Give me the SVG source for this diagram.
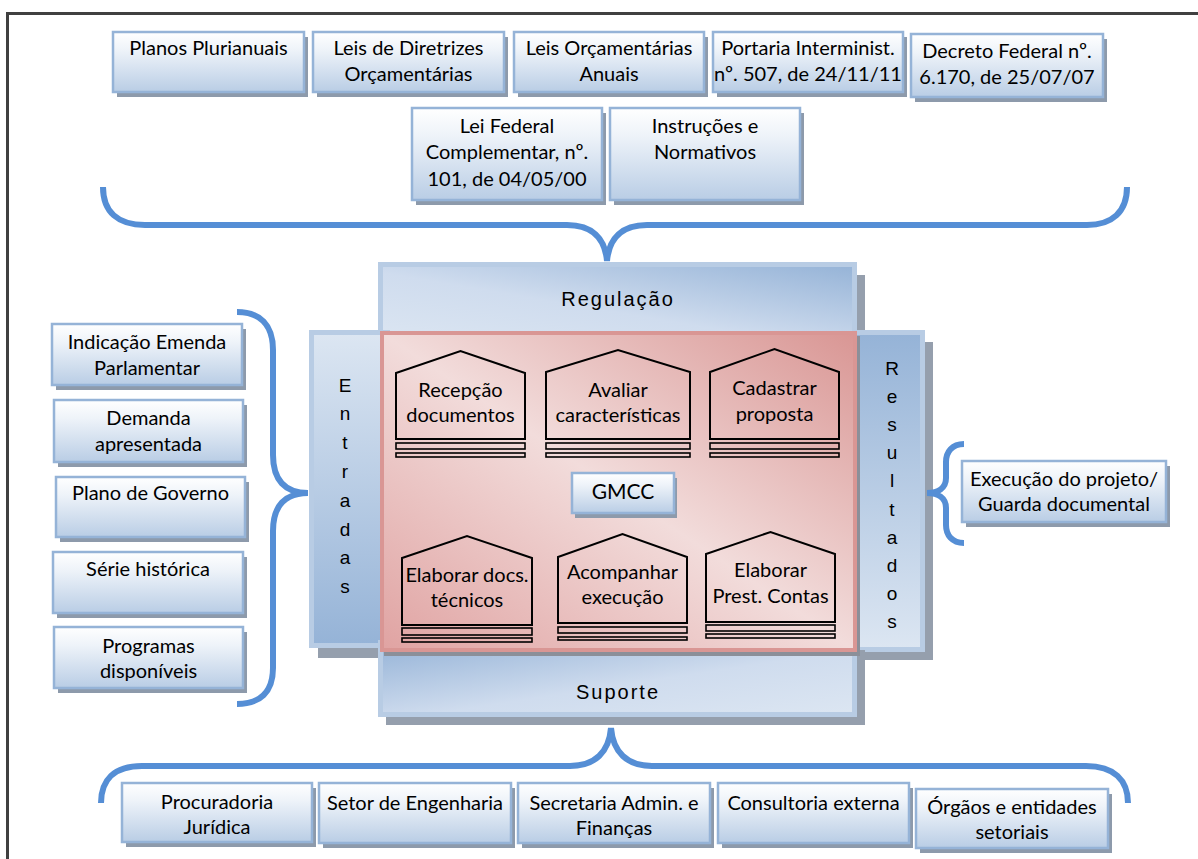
<svg xmlns="http://www.w3.org/2000/svg" width="1198" height="859" viewBox="0 0 1198 859">
<defs>
  <linearGradient id="gNode" x1="0" y1="0" x2="0" y2="1">
    <stop offset="0" stop-color="#ffffff"/>
    <stop offset="0.3" stop-color="#eef3f9"/>
    <stop offset="1" stop-color="#b9cde5"/>
  </linearGradient>
  <linearGradient id="gReg" x1="0" y1="1" x2="1" y2="0">
    <stop offset="0" stop-color="#dce6f2"/>
    <stop offset="0.45" stop-color="#cfdcee"/>
    <stop offset="1" stop-color="#95b3d7"/>
  </linearGradient>
  <linearGradient id="gSup" x1="0" y1="0" x2="1" y2="1">
    <stop offset="0" stop-color="#95b3d7"/>
    <stop offset="0.55" stop-color="#cfdcee"/>
    <stop offset="1" stop-color="#dce6f2"/>
  </linearGradient>
  <linearGradient id="gEnt" x1="0" y1="0" x2="0" y2="1">
    <stop offset="0" stop-color="#dce6f2"/>
    <stop offset="1" stop-color="#95b3d7"/>
  </linearGradient>
  <linearGradient id="gRes" x1="0" y1="0" x2="0" y2="1">
    <stop offset="0" stop-color="#95b3d7"/>
    <stop offset="1" stop-color="#dce6f2"/>
  </linearGradient>
  <linearGradient id="gCore" x1="1" y1="0" x2="0" y2="1">
    <stop offset="0" stop-color="#d99694"/>
    <stop offset="0.5" stop-color="#f2dcdb"/>
    <stop offset="1" stop-color="#e0a3a2"/>
  </linearGradient>
</defs>
<style>
  .box{fill:url(#gNode);stroke:#95b3d7;stroke-width:2.5}
  .sh{fill:#8d9aab}
  .psh{fill:#959fad}
  .t{font-family:Lato,"Liberation Sans",sans-serif;font-size:20px;fill:#000;text-anchor:middle}
  .v{font-family:"Liberation Sans",Arial,sans-serif;font-size:19px;fill:#000;text-anchor:middle}
  .lab{font-family:"Liberation Sans",Arial,sans-serif;font-size:20px;letter-spacing:2px;fill:#000;text-anchor:middle}
  .panel{stroke:#b8cce4;stroke-width:5}
  .house{fill:none;stroke:#000;stroke-width:2}
  .bar{fill:none;stroke:#000;stroke-width:1.6}
  .brace{fill:none;stroke:#558ed5;stroke-width:6}
</style>

<!-- page frame -->
<rect x="7.5" y="13.5" width="1200" height="860" fill="none" stroke="#404040" stroke-width="3"/>

<!-- legal framework (top) -->
<g id="planos">
  <rect class="sh" x="117" y="37" width="191" height="60"/>
  <rect class="box" x="113" y="32" width="191" height="60"/>
  <text class="t" x="208.5" y="55">Planos Plurianuais</text>
</g>
<g id="ldo">
  <rect class="sh" x="317" y="37" width="191" height="60"/>
  <rect class="box" x="313" y="32" width="191" height="60"/>
  <text class="t" x="408.5" y="55">Leis de Diretrizes</text>
  <text class="t" x="408.5" y="81">Orçamentárias</text>
</g>
<g id="loa">
  <rect class="sh" x="518" y="37" width="190" height="60"/>
  <rect class="box" x="514" y="32" width="190" height="60"/>
  <text class="t" x="609" y="55">Leis Orçamentárias</text>
  <text class="t" x="609" y="81">Anuais</text>
</g>
<g id="portaria">
  <rect class="sh" x="717" y="37" width="190" height="60"/>
  <rect class="box" x="713" y="32" width="190" height="60"/>
  <text class="t" x="808" y="55">Portaria Interminist.</text>
  <text class="t" x="808" y="81">nº. 507, de 24/11/11</text>
</g>
<g id="decreto">
  <rect class="sh" x="915" y="39" width="192" height="63"/>
  <rect class="box" x="911" y="34" width="192" height="63"/>
  <text class="t" x="1007" y="58">Decreto Federal nº.</text>
  <text class="t" x="1007" y="84">6.170, de 25/07/07</text>
</g>
<g id="lrf">
  <rect class="sh" x="416" y="113" width="190" height="92"/>
  <rect class="box" x="412" y="108" width="190" height="92"/>
  <text class="t" x="507" y="133">Lei Federal</text>
  <text class="t" x="507" y="159">Complementar, nº.</text>
  <text class="t" x="507" y="186">101, de 04/05/00</text>
</g>
<g id="instrucoes">
  <rect class="sh" x="614" y="113" width="190" height="92"/>
  <rect class="box" x="610" y="108" width="190" height="92"/>
  <text class="t" x="705" y="133">Instruções e</text>
  <text class="t" x="705" y="159">Normativos</text>
</g>

<!-- inputs (left) -->
<g id="emenda">
  <rect class="sh" x="56" y="329" width="190" height="61"/>
  <rect class="box" x="52" y="324" width="190" height="61"/>
  <text class="t" x="147" y="349">Indicação Emenda</text>
  <text class="t" x="147" y="375">Parlamentar</text>
</g>
<g id="demanda">
  <rect class="sh" x="58" y="405" width="189" height="62"/>
  <rect class="box" x="54" y="400" width="189" height="62"/>
  <text class="t" x="148.5" y="425">Demanda</text>
  <text class="t" x="148.5" y="451">apresentada</text>
</g>
<g id="plano-governo">
  <rect class="sh" x="60" y="482" width="189" height="60"/>
  <rect class="box" x="56" y="477" width="189" height="60"/>
  <text class="t" x="150.5" y="500">Plano de Governo</text>
</g>
<g id="serie">
  <rect class="sh" x="57" y="557" width="190" height="61"/>
  <rect class="box" x="53" y="552" width="190" height="61"/>
  <text class="t" x="148" y="576">Série histórica</text>
</g>
<g id="programas">
  <rect class="sh" x="58" y="632" width="189" height="61"/>
  <rect class="box" x="54" y="627" width="189" height="61"/>
  <text class="t" x="148.5" y="653">Programas</text>
  <text class="t" x="148.5" y="678">disponíveis</text>
</g>

<!-- central process block -->
<g id="regulacao">
  <rect class="psh" x="386" y="275" width="479" height="65"/>
  <rect class="panel" x="380.5" y="264.5" width="474" height="80" fill="url(#gReg)"/>
  <text class="lab" x="618" y="306">Regulação</text>
</g>
<g id="entradas">
  <rect class="psh" x="318" y="342" width="80" height="316"/>
  <rect class="panel" x="311.5" y="332.5" width="76" height="313" fill="url(#gEnt)"/>
  <text class="v" x="345" y="391.5">E</text>
  <text class="v" x="345" y="420.3">n</text>
  <text class="v" x="345" y="449.1">t</text>
  <text class="v" x="345" y="477.9">r</text>
  <text class="v" x="345" y="506.7">a</text>
  <text class="v" x="345" y="535.5">d</text>
  <text class="v" x="345" y="564.3">a</text>
  <text class="v" x="345" y="593.1">s</text>
</g>
<g id="resultados">
  <rect class="psh" x="861" y="342" width="72" height="318"/>
  <rect class="panel" x="854.5" y="332.5" width="68" height="317" fill="url(#gRes)"/>
  <text class="v" x="892" y="374.5">R</text>
  <text class="v" x="892" y="402.7">e</text>
  <text class="v" x="892" y="430.9">s</text>
  <text class="v" x="892" y="459.1">u</text>
  <text class="v" x="892" y="487.3">l</text>
  <text class="v" x="892" y="515.5">t</text>
  <text class="v" x="892" y="543.7">a</text>
  <text class="v" x="892" y="571.9">d</text>
  <text class="v" x="892" y="600.1">o</text>
  <text class="v" x="892" y="628.3">s</text>
</g>
<g id="suporte">
  <rect class="psh" x="386" y="650" width="479" height="75"/>
  <rect class="panel" x="380.5" y="642.5" width="474" height="72" fill="url(#gSup)"/>
  <text class="lab" x="618" y="699">Suporte</text>
</g>
<g id="core">
  <rect x="384" y="336" width="476" height="320" fill="#8b8f99"/>
  <rect x="382" y="333" width="473" height="317" fill="url(#gCore)" stroke="#d99694" stroke-width="4"/>
</g>

<!-- activities -->
<g id="recepcao">
  <path class="house" d="M396 439 V373 L460.5 351 L525 373 V439 Z"/>
  <rect class="bar" x="396" y="443" width="129" height="6"/>
  <rect class="bar" x="396" y="453" width="129" height="4"/>
  <text class="t" x="460.5" y="397">Recepção</text>
  <text class="t" x="460.5" y="422">documentos</text>
</g>
<g id="avaliar">
  <path class="house" d="M546 439 V372 L618 350 L690 372 V439 Z"/>
  <rect class="bar" x="546" y="443" width="144" height="6"/>
  <rect class="bar" x="546" y="453" width="144" height="4"/>
  <text class="t" x="618" y="397">Avaliar</text>
  <text class="t" x="618" y="422">características</text>
</g>
<g id="cadastrar">
  <path class="house" d="M710 439 V372 L774.5 349 L839 372 V439 Z"/>
  <rect class="bar" x="710" y="443" width="129" height="6"/>
  <rect class="bar" x="710" y="453" width="129" height="4"/>
  <text class="t" x="774.5" y="395">Cadastrar</text>
  <text class="t" x="774.5" y="421">proposta</text>
</g>
<g id="gmcc">
  <rect class="sh" x="575" y="478" width="102" height="40"/>
  <rect class="box" x="572" y="473" width="102" height="40"/>
  <text class="t" x="623" y="499" style="font-size:21px">GMCC</text>
</g>
<g id="elaborar-docs">
  <path class="house" d="M402 625 V558 L467 536 L532 558 V625 Z"/>
  <rect class="bar" x="402" y="628" width="130" height="7"/>
  <rect class="bar" x="402" y="638" width="130" height="4"/>
  <text class="t" x="467" y="582">Elaborar docs.</text>
  <text class="t" x="467" y="607">técnicos</text>
</g>
<g id="acompanhar">
  <path class="house" d="M558 623 V557 L622.5 534 L687 557 V623 Z"/>
  <rect class="bar" x="558" y="627" width="129" height="6"/>
  <rect class="bar" x="558" y="637" width="129" height="3"/>
  <text class="t" x="622.5" y="579">Acompanhar</text>
  <text class="t" x="622.5" y="604">execução</text>
</g>
<g id="prestacao">
  <path class="house" d="M706 622 V554 L770.5 532 L835 554 V622 Z"/>
  <rect class="bar" x="706" y="625" width="129" height="6"/>
  <rect class="bar" x="706" y="634" width="129" height="4"/>
  <text class="t" x="770.5" y="577">Elaborar</text>
  <text class="t" x="770.5" y="603">Prest. Contas</text>
</g>

<!-- results (right) -->
<g id="execucao">
  <rect class="sh" x="966" y="466" width="204" height="61"/>
  <rect class="box" x="962" y="461" width="204" height="61"/>
  <text class="t" x="1064" y="486">Execução do projeto/</text>
  <text class="t" x="1064" y="511">Guarda documental</text>
</g>

<!-- support (bottom) -->
<g id="procuradoria">
  <rect class="sh" x="126" y="788" width="190" height="59"/>
  <rect class="box" x="122" y="783" width="190" height="59"/>
  <text class="t" x="217" y="809">Procuradoria</text>
  <text class="t" x="217" y="834">Jurídica</text>
</g>
<g id="engenharia">
  <rect class="sh" x="323" y="788" width="192" height="60"/>
  <rect class="box" x="319" y="783" width="192" height="60"/>
  <text class="t" x="415" y="810">Setor de Engenharia</text>
</g>
<g id="secretaria">
  <rect class="sh" x="522" y="788" width="192" height="60"/>
  <rect class="box" x="518" y="783" width="192" height="60"/>
  <text class="t" x="614" y="810">Secretaria Admin. e</text>
  <text class="t" x="614" y="835">Finanças</text>
</g>
<g id="consultoria">
  <rect class="sh" x="722" y="788" width="191" height="60"/>
  <rect class="box" x="718" y="783" width="191" height="60"/>
  <text class="t" x="813.5" y="810">Consultoria externa</text>
</g>
<g id="orgaos">
  <rect class="sh" x="920" y="794" width="192" height="59"/>
  <rect class="box" x="916" y="789" width="192" height="59"/>
  <text class="t" x="1012" y="814">Órgãos e entidades</text>
  <text class="t" x="1012" y="839">setoriais</text>
</g>

<!-- braces -->
<g id="connectors">
  <path class="brace" d="M103 187 C103 212 118 225 145 225 L567 225 C592 225 605 238 607 261 C609 238 622 225 647 225 L1087 225 C1112 225 1127 212 1127 187"/>
  <path class="brace" d="M237 312 C260 312 273 325 273 350 L273 455 C273 480 285 493 308 493 C285 493 273 506 273 531 L273 668 C273 692 260 704 237 704"/>
  <path class="brace" d="M964 444 C952 444 946 452 946 462 L946 478 C946 488 938 493 927 493 C938 493 946 498 946 508 L946 525 C946 535 952 543 964 543"/>
  <path class="brace" d="M101 803 C101 780 114 766 142 766 L570 766 C595 766 609 752 611 728 C613 752 627 766 652 766 L1086 766 C1114 766 1128 780 1128 803"/>
</g>
</svg>
